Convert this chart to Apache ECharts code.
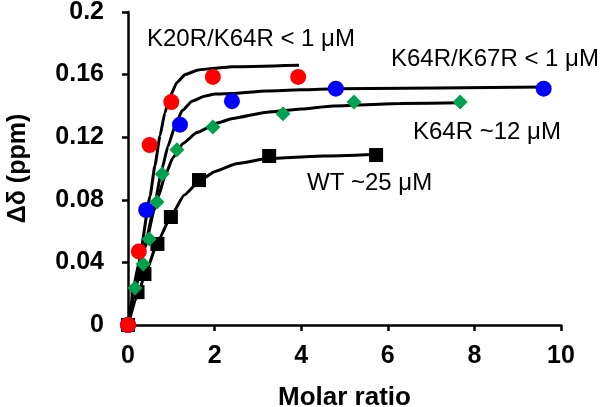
<!DOCTYPE html>
<html>
<head>
<meta charset="utf-8">
<script src="https://cdn.jsdelivr.net/npm/echarts@6/dist/echarts.min.js"></script>
<style>
html,body{margin:0;padding:0;background:#fff;}
#chart{width:600px;height:407px;}
</style>
</head>
<body>
<div id="chart"></div>
<script>
// Measured points
var redX   = [0, 0.25, 0.5, 1.0, 1.96, 3.93];
var redY   = [0, 0.047, 0.115, 0.1425, 0.1585, 0.1585];
var blueX  = [0, 0.42, 1.2, 2.4, 4.8, 9.6];
var blueY  = [0, 0.0735, 0.128, 0.143, 0.151, 0.151];
var greenX = [0, 0.16, 0.35, 0.49, 0.67, 0.79, 1.13, 1.96, 3.58, 5.22, 7.67];
var greenY = [0, 0.0236, 0.039, 0.055, 0.0786, 0.0965, 0.112, 0.1265, 0.135, 0.1425, 0.1425];
var wtX    = [0, 0.22, 0.38, 0.68, 0.99, 1.64, 3.26, 5.73];
var wtY    = [0, 0.021, 0.0326, 0.0518, 0.069, 0.0926, 0.108, 0.1086];

// Fitted curves
var fitRedX   = [0, 0.25, 0.51, 0.62, 0.74, 0.85, 0.97, 1.13, 1.32, 1.62, 2.01, 2.4, 3.95];
var fitRedY   = [0, 0.040, 0.0824, 0.1016, 0.121, 0.1355, 0.146, 0.155, 0.160, 0.163, 0.164, 0.165, 0.166];
var fitBlueX  = [0, 0.2, 0.4, 0.6, 0.785, 0.92, 1.085, 1.25, 1.48, 1.78, 2.01, 2.4, 3.2, 4.8, 9.6];
var fitBlueY  = [0, 0.026, 0.052, 0.075, 0.0997, 0.114, 0.127, 0.137, 0.143, 0.1463, 0.1476, 0.148, 0.1495, 0.151, 0.152];
var fitGreenX = [0, 0.2, 0.4, 0.6, 0.7, 0.85, 1.04, 1.27, 1.59, 2.06, 2.42, 3.21, 4.0, 4.73, 6.28, 7.67];
var fitGreenY = [0, 0.027, 0.050, 0.073, 0.082, 0.095, 0.107, 0.116, 0.123, 0.129, 0.132, 0.136, 0.138, 0.140, 0.1415, 0.142];
var fitWtX    = [0, 0.2, 0.4, 0.7, 1.0, 1.3, 1.65, 2.0, 2.5, 3.26, 4.5, 5.73];
var fitWtY    = [0, 0.017, 0.033, 0.054, 0.070, 0.083, 0.092, 0.098, 0.103, 0.1065, 0.108, 0.109];

var xTicks = [0, 2, 4, 6, 8, 10];
var yTicks = [0, 0.04, 0.08, 0.12, 0.16, 0.2];

var labels = ['K20R/K64R < 1 μM', 'K64R/K67R < 1 μM', 'K64R ~12 μM', 'WT ~25 μM'];

function pairs(xs, ys) { return xs.map(function (x, i) { return [x, ys[i]]; }); }

var FONT = '"Liberation Sans", Arial, sans-serif';
var chart = echarts.init(document.getElementById('chart'), null, {renderer: 'canvas'});

function fit(xs, ys) {
  return {type: 'line', data: pairs(xs, ys), showSymbol: false, symbol: 'none',
    smooth: 0.15, smoothMonotone: 'x', clip: false,
    lineStyle: {color: '#000', width: 3}, z: 2, silent: true};
}
function pts(xs, ys, sym, size, color, z) {
  return {type: 'scatter', data: pairs(xs, ys), symbol: sym, symbolSize: size, clip: false,
    itemStyle: {color: color, opacity: 1}, z: z};
}

chart.setOption({
  animation: false,
  backgroundColor: '#fff',
  grid: {left: 128, right: 39, top: 12, bottom: 82, containLabel: false, outerBoundsMode: 'none'},
  xAxis: {
    type: 'value', min: xTicks[0], max: xTicks[xTicks.length - 1], interval: 2,
    name: 'Molar ratio', nameLocation: 'middle', nameGap: 60,
    nameTextStyle: {fontFamily: FONT, fontSize: 26, fontWeight: 'bold', color: '#000'},
    axisLine: {show: true, onZero: false, lineStyle: {color: '#000', width: 2.5}},
    axisTick: {show: true, inside: false, length: 6, lineStyle: {color: '#000', width: 2.5}},
    axisLabel: {fontFamily: FONT, fontSize: 25, fontWeight: 'bold', color: '#000', margin: 19},
    splitLine: {show: false}
  },
  yAxis: {
    type: 'value', min: yTicks[0], max: yTicks[yTicks.length - 1], interval: 0.04,
    name: 'Δδ (ppm)', nameLocation: 'middle', nameGap: 97, nameRotate: 90,
    nameTextStyle: {fontFamily: FONT, fontSize: 25, fontWeight: 'bold', color: '#000'},
    axisLine: {show: true, onZero: false, lineStyle: {color: '#000', width: 2.5}},
    axisTick: {show: true, inside: false, length: 6, lineStyle: {color: '#000', width: 2.5}},
    axisLabel: {fontFamily: FONT, fontSize: 25, fontWeight: 'bold', color: '#000', margin: 24,
      formatter: function (v) { return String(+v.toFixed(2)); }},
    splitLine: {show: false}
  },
  series: [
    fit(fitRedX, fitRedY),
    fit(fitBlueX, fitBlueY),
    fit(fitGreenX, fitGreenY),
    fit(fitWtX, fitWtY),
    pts(wtX, wtY, 'rect', 14, '#000000', 3),
    pts(greenX, greenY, 'diamond', 15, '#00a24f', 4),
    pts(blueX, blueY, 'circle', 16, '#0000ff', 5),
    pts(redX, redY, 'circle', 16, '#ff0000', 6)
  ],
  graphic: [
    {type: 'text', x: 147, y: 39, style: {text: labels[0], font: '24px ' + FONT, fill: '#000', verticalAlign: 'middle', align: 'left'}},
    {type: 'text', x: 391, y: 59, style: {text: labels[1], font: '24px ' + FONT, fill: '#000', verticalAlign: 'middle', align: 'left'}},
    {type: 'text', x: 413, y: 132, style: {text: labels[2], font: '24px ' + FONT, fill: '#000', verticalAlign: 'middle', align: 'left'}},
    {type: 'text', x: 307, y: 183, style: {text: labels[3], font: '24px ' + FONT, fill: '#000', verticalAlign: 'middle', align: 'left'}}
  ]
});
</script>
</body>
</html>
